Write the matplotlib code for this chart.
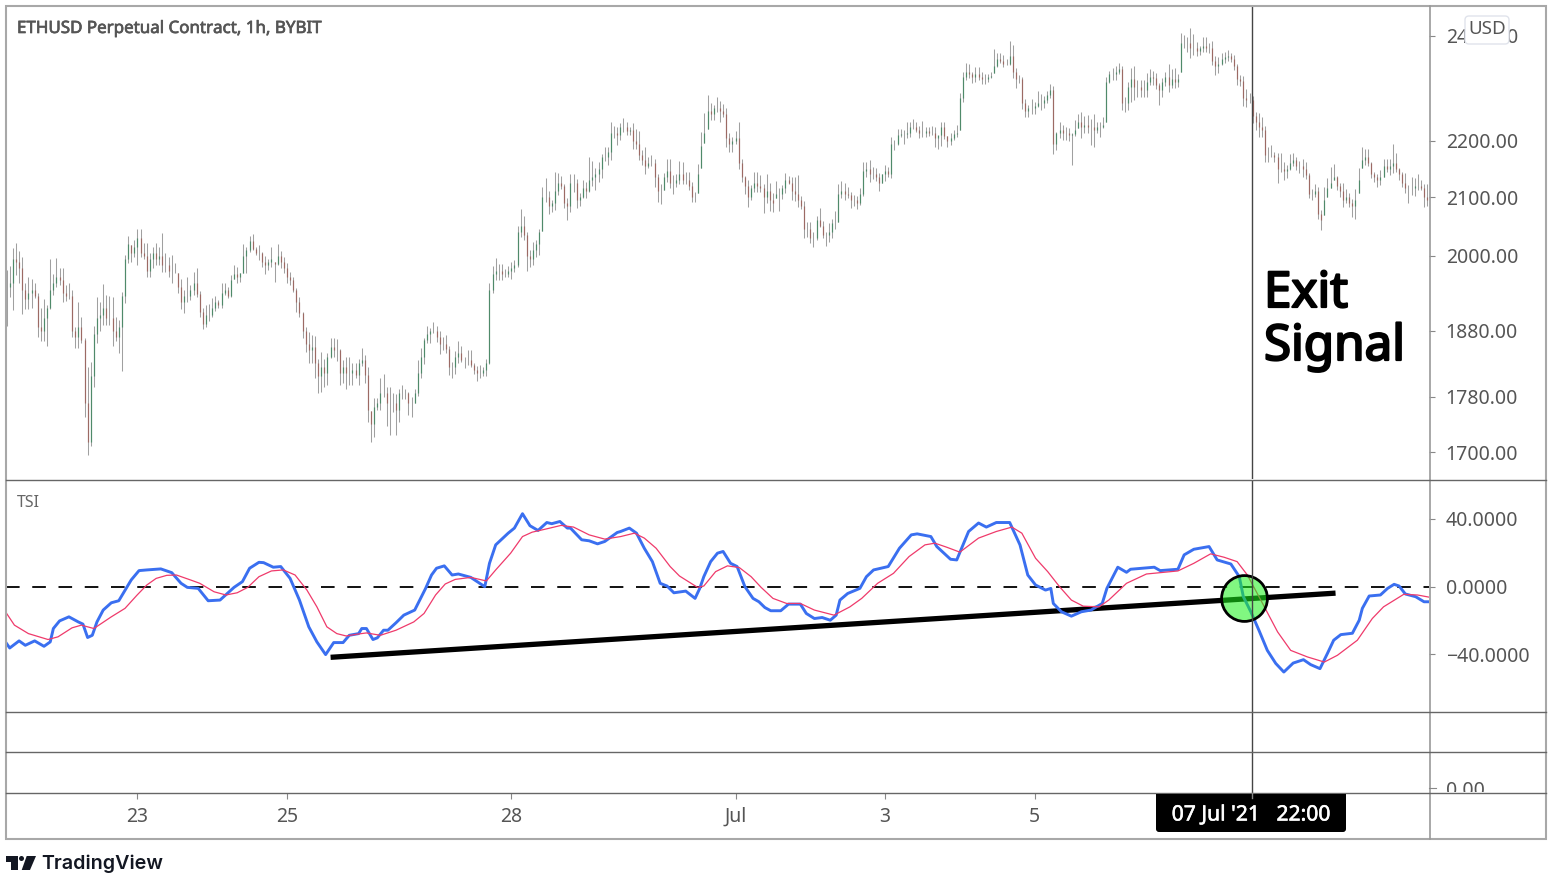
import matplotlib
matplotlib.use("Agg")
import matplotlib.patheffects as pe
import matplotlib.pyplot as plt
import matplotlib.transforms as mtransforms
from matplotlib.lines import Line2D
from matplotlib.patches import Circle, FancyBboxPatch, Polygon, Rectangle
from matplotlib.ticker import NullLocator
import numpy as np

plt.rcParams["font.family"] = ["Noto Sans", "DejaVu Sans"]

bar_high = [
    1977,1984,2013,2022,2008,1998,1955,1966,1963,1955,
    1939,1915,1930,1920,1995,1970,1996,1980,1980,1952,
    1955,1945,1886,1925,1901,1868,1824,1832,1887,1933,
    1925,1954,1936,1934,1933,1901,1897,1941,2001,2033,
    2018,2027,2046,2045,2022,2022,2005,2015,2022,2015,
    2038,2005,1998,2001,1988,1972,1963,1945,1965,1952,
    1973,1980,1942,1915,1920,1922,1931,1934,1928,1955,
    1955,1949,1968,1985,1982,1972,2020,2015,2033,2037,
    2015,2018,2007,2000,1995,2015,1990,2020,2008,1998,
    1988,1973,1966,1947,1933,1910,1886,1878,1873,1872,
    1836,1847,1836,1846,1868,1868,1867,1851,1835,1839,
    1839,1830,1830,1836,1853,1842,1824,1759,1778,1778,
    1808,1813,1794,1794,1785,1784,1792,1798,1792,1787,
    1779,1792,1835,1853,1868,1887,1884,1894,1887,1880,
    1870,1873,1856,1832,1848,1864,1856,1839,1850,1850,
    1830,1826,1827,1824,1836,1955,1984,1996,1986,1986,
    1978,1984,1990,1993,2051,2080,2068,2040,2010,2023,
    2027,2046,2118,2134,2110,2095,2144,2143,2137,2123,
    2098,2141,2141,2132,2107,2130,2126,2170,2164,2152,
    2161,2177,2188,2188,2234,2228,2226,2232,2243,2234,
    2226,2232,2222,2218,2184,2188,2171,2175,2168,2141,
    2123,2143,2168,2168,2139,2141,2164,2161,2144,2144,
    2126,2109,2159,2216,2251,2285,2270,2266,2281,2274,
    2268,2261,2215,2207,2218,2234,2168,2137,2130,2121,
    2144,2144,2139,2123,2141,2125,2107,2128,2116,2121,
    2143,2137,2135,2135,2139,2102,2093,2057,2057,2040,
    2067,2081,2058,2040,2055,2062,2076,2123,2128,2125,
    2118,2109,2103,2102,2116,2161,2161,2166,2153,2152,
    2143,2141,2157,2153,2207,2202,2222,2222,2220,2235,
    2235,2241,2235,2228,2237,2226,2226,2228,2226,2209,2235,2234,
    2209,2215,2220,2230,2289,2329,2346,2345,
    2329,2339,2339,2329,2326,2326,2329,2374,2366,2366,
    2362,2355,2390,2382,2337,2324,2320,2278,2266,2278,
    2272,2293,2287,2283,2293,2307,2303,2216,2234,2230,
    2226,2224,2215,2239,2250,2253,2246,2248,2241,2250,
    2235,2234,2244,2320,2331,2337,2341,2346,2341,2282,
    2310,2337,2341,2314,2314,2314,2327,2335,2331,2327,
    2308,2318,2329,2345,2335,2337,2326,2405,2401,2397,
    2415,2403,2388,2380,2398,2398,2386,2390,2360,2359,
    2366,2368,2372,2366,2362,2345,2324,2322,2297,2289,
    2283,2253,2251,2244,2228,2188,2193,2180,2178,2178,
    2161,2157,2177,2178,2171,2164,2168,2161,2143,2114,
    2123,2118,2078,2118,2134,2153,2159,2137,2125,2125,
    2114,2107,2097,2114,2152,2189,2186,2186,2162,2144,
    2141,2148,2168,2168,2168,2195,2178,2152,2144,2143,
    2121,2135,2134,2141,2130,2123,2123,2118]

bar_low = [
    1887,1933,1912,1968,1955,1906,1914,1914,1915,1931,
    1870,1864,1864,1856,1914,1936,1950,1952,1925,1926,
    1930,1870,1853,1853,1861,1750,1696,1709,1794,1861,
    1879,1889,1889,1889,1856,1864,1846,1818,1923,1988,
    1990,1998,1985,1998,1995,1965,1965,1980,1985,1985,
    1973,1973,1965,1955,1972,1939,1914,1908,1925,1928,
    1936,1933,1901,1883,1886,1895,1901,1911,1915,1915,
    1936,1931,1933,1963,1955,1957,1972,1972,2007,2010,
    2001,1993,1982,1970,1977,1982,1958,1985,1980,1972,
    1955,1952,1941,1910,1901,1868,1847,1830,1830,1807,
    1785,1787,1794,1797,1838,1839,1833,1797,1800,1791,
    1798,1798,1808,1798,1826,1801,1743,1714,1721,1760,
    1761,1779,1737,1724,1757,1724,1743,1776,1776,1753,
    1750,1770,1781,1808,1829,1861,1861,1876,1863,1844,
    1850,1846,1812,1808,1814,1830,1832,1823,1827,1824,
    1814,1803,1808,1811,1811,1829,1939,1960,1960,1960,
    1965,1965,1963,1973,1982,2032,2027,1975,1982,1985,
    1998,2001,2042,2091,2071,2074,2078,2103,2114,2081,
    2060,2074,2109,2081,2085,2098,2098,2109,2119,2112,
    2126,2134,2164,2157,2166,2206,2193,2202,2216,2211,
    2211,2186,2186,2166,2157,2141,2152,2154,2118,2091,
    2088,2112,2126,2116,2105,2118,2123,2123,2123,2112,
    2091,2091,2107,2152,2196,2222,2239,2239,2253,2234,
    2244,2189,2180,2180,2195,2150,2126,2105,2083,2095,
    2109,2109,2109,2073,2090,2076,2074,2098,2076,2097,
    2107,2123,2095,2093,2083,2079,2030,2032,2022,2015,
    2027,2048,2030,2017,2023,2030,2045,2057,2098,2095,
    2098,2081,2085,2079,2086,2102,2135,2126,2132,2128,
    2110,2125,2128,2135,2134,2184,2193,2207,2195,2206,
    2207,2222,2216,2206,2207,2207,2209,2211,2188,2186,2191,2204,
    2189,2193,2202,2207,2220,2272,2314,2318,
    2308,2310,2314,2306,2306,2310,2318,2327,2339,2347,
    2339,2343,2343,2318,2299,2308,2259,2244,2244,2250,
    2250,2262,2257,2261,2270,2280,2177,2184,2206,2202,
    2202,2200,2157,2209,2224,2206,2215,2215,2193,2189,
    2215,2207,2224,2235,2308,2314,2314,2326,2257,2253,
    2257,2272,2276,2282,2282,2282,2282,2305,2305,2297,
    2266,2282,2303,2291,2299,2299,2301,2329,2376,2368,
    2357,2362,2360,2362,2368,2368,2366,2343,2324,2327,
    2343,2347,2351,2349,2333,2305,2303,2265,2263,2270,
    2233,2220,2207,2207,2161,2161,2171,2161,2125,2144,
    2130,2134,2148,2154,2148,2143,2135,2132,2098,2095,
    2100,2062,2043,2069,2100,2116,2130,2112,2100,2083,
    2090,2083,2065,2062,2107,2152,2157,2154,2134,2126,
    2118,2121,2135,2144,2139,2143,2144,2130,2118,2107,
    2090,2103,2102,2112,2112,2083,2085,2100]

bar_close = [
    1950,1955,1995,1990,1980,1945,1930,1940,1945,1935,
    1885,1880,1900,1915,1945,1955,1965,1960,1940,1935,
    1935,1880,1870,1885,1865,1770,1715,1810,1875,1900,
    1905,1915,1900,1900,1880,1870,1885,1935,1995,2020,
    2005,2015,2030,2005,2000,1975,1995,2005,1995,2000,
    1985,1985,1975,1975,1975,1950,1925,1935,1935,1945,
    1955,1938,1910,1890,1905,1905,1915,1925,1920,1940,
    1945,1935,1960,1970,1965,1972,2000,2010,2025,2012,
    2005,2005,1990,1985,1990,1995,1987,2000,1990,1980,
    1965,1960,1945,1925,1908,1880,1860,1850,1855,1830,
    1810,1825,1815,1840,1855,1850,1850,1815,1825,1815,
    1815,1820,1812,1830,1835,1812,1760,1740,1765,1770,
    1785,1785,1770,1770,1770,1760,1785,1785,1785,1770,
    1770,1785,1815,1840,1865,1875,1880,1880,1870,1860,
    1860,1852,1825,1825,1840,1845,1835,1835,1835,1828,
    1820,1815,1815,1820,1830,1945,1970,1975,1975,1970,
    1970,1975,1980,1985,2040,2050,2035,2000,1995,2010,
    2020,2040,2100,2100,2085,2090,2110,2125,2120,2090,
    2085,2125,2125,2095,2100,2115,2110,2130,2135,2140,
    2150,2170,2170,2180,2215,2215,2210,2225,2225,2218,
    2220,2200,2195,2175,2165,2155,2160,2160,2135,2110,
    2110,2135,2145,2125,2125,2130,2140,2130,2130,2120,
    2100,2100,2140,2190,2215,2255,2250,2260,2260,2255,
    2250,2205,2195,2200,2205,2160,2135,2120,2100,2115,
    2125,2120,2115,2100,2110,2095,2090,2105,2105,2115,
    2130,2125,2110,2105,2095,2085,2045,2045,2030,2030,
    2060,2050,2035,2035,2040,2055,2055,2105,2110,2105,
    2103,2095,2095,2090,2105,2145,2150,2140,2140,2135,
    2125,2140,2145,2140,2195,2195,2210,2212,2212,2215,
    2225,2225,2220,2215,2215,2218,2215,2215,2205,2210,2225,2208,
    2200,2205,2212,2215,2280,2320,2330,2325,
    2320,2325,2320,2315,2315,2320,2322,2340,2355,2350,
    2345,2345,2360,2330,2315,2315,2270,2255,2260,2260,
    2265,2270,2270,2275,2285,2295,2195,2215,2220,2215,
    2215,2210,2212,2220,2235,2225,2230,2225,2225,2220,
    2225,2225,2230,2310,2325,2325,2330,2335,2270,2270,
    2300,2315,2300,2300,2295,2295,2310,2320,2318,2305,
    2295,2310,2320,2305,2315,2310,2315,2385,2385,2385,
    2375,2375,2370,2375,2380,2375,2375,2350,2340,2345,
    2355,2358,2360,2355,2340,2315,2312,2280,2275,2275,
    2245,2235,2225,2220,2175,2175,2175,2170,2150,2150,
    2145,2150,2160,2165,2155,2155,2150,2138,2105,2105,
    2110,2070,2060,2095,2115,2125,2135,2120,2110,2095,
    2100,2090,2085,2095,2130,2165,2170,2160,2140,2135,
    2130,2135,2155,2150,2155,2160,2150,2140,2125,2115,
    2115,2115,2120,2120,2115,2100,2095,2105]

tsi_bar = [
    0,1,4,6,9,12,14,15,17,20,23,24.5,26,27.5,29,31,33.6,36,40,42.5,
    45,49.5,53,56,58,61.5,64.7,68.5,73,75.7,78,81,82.5,85.6,88,91,94,97,99.6,102.4,
    105,108,110,113,114,115.5,117.6,119,121,122.4,125,127.5,131,134.5,136.4,138,140.5,143,145,149,
    153.5,155,157,161,163,165.6,168,170.6,173.4,175,177.6,180,181,184.6,187,189.7,192,196,
    197.1,199.9,202.2,204.7,207.3,209.8,212,214.2,218,221,222.5,223.8,226,228.2,230,232.4,234.5,237,239.6,241.5,
    243.4,245.3,248.5,251,254.8,256.7,259.3,261.8,264.4,266.3,267.5,270,273.9,276,278.3,283,286.6,290.4,292.3,296.7,
    298.6,303,305,308.8,312,314.5,317.7,322,325.3,327.8,330.3,333.5,335.2,336,338.6,341.8,345,348.1,351.7,353.2,
    356.7,359.5,360.8,368.4,370.3,376,378,381.1,386,388.6,393,395.7,397,399.4,402,404.7,407.4,410,413,416.3,
    418.6,421.6,424,426,428.3,432,434.2,435.2,437.4,441,443.3,445.4,447,449,452.3,455,457]
tsi_value = [
    -33.7,-36.3,-32.1,-34.7,-32.1,-35.3,-32.7,-24.8,-20.3,-17.9,-20.9,-22.2,-30.1,-28.8,-20.9,-13.9,-9.6,-8.4,3.9,9.4,
    9.8,10.4,8.2,1.9,-0.5,-1.1,-8.4,-8,-0.5,2.9,10.8,14.3,14.1,11.4,11.8,4.8,-8,-23.8,-32.7,-40.2,
    -33.1,-33.1,-28.8,-27.8,-24.8,-24.8,-31.3,-30.3,-25.8,-25.8,-21.4,-16.9,-13.9,-1.1,6.8,10.8,12.2,6.8,7.4,5.4,
    -0.1,13.7,24.6,31.5,34.5,43,35.9,33.1,37.8,37.1,38.4,34.5,34.5,27.6,27,25.2,26.6,31.9,
    32.5,34.5,31.5,22.6,14.7,1.9,0.3,-3.7,-2.7,-7,-1.1,5.8,14.7,19.7,20.7,13.7,11.8,-0.1,-7,-9,
    -12.4,-14.3,-14.3,-10.4,-10.4,-15.9,-18.9,-18.3,-19.9,-16.9,-8,-4.1,-1.1,5.8,9.8,11.8,22.6,30.5,31.1,29.5,
    23.6,16.1,15.7,32.5,37.5,35.1,37.8,37.8,24.6,6.8,0.9,-2.1,-1.1,-10,-14.9,-17.5,-14.9,-13.9,-10,-1.1,
    11.4,8.4,10.2,11.4,9.4,10.2,18.7,22,23.6,15.7,13.3,5.8,-6,-14.9,-25.8,-37.7,-45.4,-50.5,-45.2,-43.2,
    -46.1,-48.5,-39.5,-31.7,-28.4,-27.6,-19.9,-12.9,-5.6,-5,-1.1,1.3,0.3,-4.4,-6,-9,-9]

signal_bar = [
    0,2.5,7,13.3,16.5,21,24,28,33.6,38,41.9,45,48,51.4,54.5,59,62,66.6,70.4,74,
    77.4,81,85,88.8,92.6,96.4,99.6,102.8,106,109,112.3,115.5,120,125,130.7,134,137.7,140.8,144,149,
    154,157,161.8,165.6,168.7,173,178,182,187,192,
    197.1,201.5,204.7,208.5,213,216,221.8,223.8,227.6,231.4,235.2,239,242.2,246,250.4,254.8,259.3,265.6,270.7,274.5,
    279.6,284.7,289.7,294.8,298,301.8,306,312,317.7,322.7,325.9,330.3,334.2,338,341.8,345.6,350.7,353.8,359.5,365.9,
    376,381.1,386.5,390.8,395,398.3,402.6,408,412.2,417.6,423,427.2,433.6,438.4,442,448.5,452.9,457]
signal_value = [
    -15.9,-22.8,-27.8,-31.3,-29.7,-24.4,-22.8,-24.8,-17.9,-12.9,-5,0.9,4.8,6.6,6.8,3.9,1.9,-3.1,-5,-3.7,
    -0.5,5.8,9.2,9.8,6.8,-2.1,-12,-23.8,-27.8,-29.2,-28.2,-27.4,-28.8,-25.8,-20.9,-15.9,-5,1.5,4.2,5.4,
    3.3,9.8,19.7,29.5,32.1,33.9,36.1,35.1,30.5,28,
    29.5,31.5,28.6,22.6,11.8,6.2,-0.5,0.3,8.8,12.2,11.2,5.8,-0.5,-7,-10,-10,-13.9,-16.9,-12,-7,
    1.9,7.8,17.7,24.6,25.6,23.2,20.3,28.6,32.5,35.1,31.5,16.7,8.8,-0.1,-8,-11.6,-12,-8,1.9,7.4,
    9.2,13.7,19.3,17.3,14.7,6.8,-8,-26.8,-37.7,-41.6,-44.6,-40.6,-31.7,-18.9,-12,-4.6,-5,-6.4]

trend_bar = [104, 426.6]
trend_value = [-41.8, -3.9]
exit_bar = 397.2
exit_value = -6.8
crosshair_bar = 399.7

price_ticks = [1700, 1780, 1880, 2000, 2100, 2200, 2400]
price_labels = ["1700.00", "1780.00", "1880.00", "2000.00", "2100.00", "2200.00", "2400.00"]
tsi_ticks = [-40, 0, 40]
tsi_labels = ["\u221240.0000", "0.0000", "40.0000"]
date_ticks = [42, 90, 162, 234, 282, 330]
date_labels = ["23", "25", "28", "Jul", "3", "5"]

W, H = 1553, 876
fig = plt.figure(figsize=(W / 100, H / 100), dpi=100, facecolor="white")
px = mtransforms.Affine2D().scale(1, -1).translate(0, H)


def pane(top, bottom):
    ax = fig.add_axes([6 / W, 1 - bottom / H, 1423 / W, (bottom - top) / H])
    ax.set_xlim(-0.2, 456.6)
    for s in ax.spines.values():
        s.set_visible(False)
    ax.set_xticks([])
    ax.set_facecolor("none")
    return ax


def heavy(width, color):
    # the installed Noto Sans has no bold face, so thicken the glyphs
    return [pe.withStroke(linewidth=width, foreground=color)]


axis_text = "#555555"

# price pane
ax1 = pane(6, 479.5)
bars = np.arange(len(bar_high))
high = np.array(bar_high)
low = np.array(bar_low)
close = np.array(bar_close)
opens = np.clip(np.r_[close[0], close[:-1]], low, high)
up = close >= opens
ax1.vlines(bars, low, high, color="#a0a0a0", lw=0.75)
ax1.vlines(bars[up], opens[up], close[up], color="#4f8a6a", lw=0.85)
ax1.vlines(bars[~up], opens[~up], close[~up], color="#9c6a64", lw=0.85)
ax1.set_yscale("log")
ax1.set_ylim(1662, 2460)
ax1.yaxis.tick_right()
ax1.set_yticks(price_ticks, price_labels)
ax1.yaxis.set_minor_locator(NullLocator())
ax1.tick_params(axis="y", length=4, width=0.8, color="#888888", labelcolor=axis_text,
                labelsize=14, pad=8)
ax1.axvline(crosshair_bar, color="#444444", lw=1)
fig.text(17 / W, 1 - 29 / H, "ETHUSD Perpetual Contract, 1h, BYBIT", fontsize=12.2,
         color="#555555", va="center", path_effects=heavy(0.5, "#555555"))
fig.text(1264 / W, 1 - 294 / H, "Exit", fontsize=35.5, color="black", va="center",
         path_effects=heavy(1.6, "black"))
fig.text(1264 / W, 1 - 347 / H, "Signal", fontsize=35.5, color="black", va="center",
         path_effects=heavy(1.6, "black"))

# TSI pane
ax2 = pane(479.5, 711.5)
ax2.set_ylim(-73.8, 63.2)
ax2.axhline(0, color="#111111", lw=1.4, dashes=(7, 6.5))
ax2.plot(trend_bar, trend_value, color="black", lw=3.8, solid_capstyle="butt")
ax2.plot(tsi_bar, tsi_value, color="#3a6ff0", lw=2.1)
ax2.plot(signal_bar, signal_value, color="#ef3a6b", lw=0.9)
ax2.plot([exit_bar], [exit_value], marker="o", ms=33, mfc=(0.1, 0.95, 0.1, 0.55), mec="black", mew=2)
ax2.axvline(crosshair_bar, color="#444444", lw=1)
ax2.yaxis.tick_right()
ax2.set_yticks(tsi_ticks, tsi_labels)
ax2.tick_params(axis="y", length=4, width=0.8, color="#888888", labelcolor=axis_text,
                labelsize=14, pad=8)
fig.text(17 / W, 1 - 503 / H, "TSI", fontsize=11.5, color="#666666", va="center")

# two empty panes under the TSI
ax3 = pane(711.5, 751.5)
ax3.set_yticks([])
ax3.axvline(crosshair_bar, color="#444444", lw=1)
ax4 = pane(751.5, 793)
ax4.set_yticks([])
ax4.axvline(crosshair_bar, color="#444444", lw=1)
ax4.set_xticks(date_ticks, date_labels)
ax4.tick_params(axis="x", length=4, width=0.8, color="#888888", labelcolor=axis_text,
                labelsize=14, pad=6)

# frame and separators
fig.add_artist(Rectangle((6, 6), 1540, 833, transform=px, fill=False, ec="#a8a8a8", lw=1.5))
fig.add_artist(Line2D([1429.5, 1429.5], [6, 839], transform=px, color="#999999", lw=1.2))
for y in [479.5, 711.5, 751.5, 793]:
    fig.add_artist(Line2D([6, 1546], [y, y], transform=px, color="#666666", lw=1))
fig.add_artist(Line2D([1429, 1436], [788, 788], transform=px, color="#888888", lw=0.8))

# clipped zero label of the bottom pane
zero = fig.text(1446 / W, 1 - 791 / H, "0.00", fontsize=14, color=axis_text, va="center")
zero.set_clip_box(mtransforms.Bbox.from_extents(0, H - 792, W, H))
zero.set_clip_on(True)

# USD badge over the top label
fig.add_artist(FancyBboxPatch((1467, 18), 40, 24, boxstyle="round,pad=2,rounding_size=4",
                              transform=px, fc="white", ec="#e0e3eb", lw=1, zorder=5))
fig.text(1487 / W, 1 - 29 / H, "USD", fontsize=13.5, color="#555555", ha="center", va="center", zorder=6)

# crosshair date label
fig.add_artist(FancyBboxPatch((1159, 797), 184, 32, boxstyle="round,pad=3,rounding_size=3",
                              transform=px, fc="black", ec="black", lw=0, zorder=5))
fig.add_artist(Rectangle((1156, 793.5), 190, 10, transform=px, fc="black", ec="none", zorder=5))
fig.add_artist(Line2D([1252, 1252], [793, 798], transform=px, color="#888888", lw=1, zorder=6))
fig.text(1251 / W, 1 - 815 / H, "07 Jul '21   22:00", fontsize=15.2, color="white", ha="center",
         va="center", zorder=6, path_effects=heavy(0.4, "white"))

# TradingView logo
logo = "#131722"
fig.add_artist(Polygon([(5.5, 856), (18, 856), (18, 870), (11, 870), (11, 862), (5.5, 862)],
                       transform=px, fc=logo, ec="none"))
fig.add_artist(Circle((21.5, 858.5), 2.5, transform=px, fc=logo, ec="none"))
fig.add_artist(Polygon([(26.7, 856), (36, 856), (30, 870), (21.7, 870)],
                       transform=px, fc=logo, ec="none"))
fig.text(41 / W, 1 - 864 / H, "TradingView", fontsize=14.2, fontweight="semibold", color=logo,
         family=["Inter", "Noto Sans"], va="center")

fig.savefig("out.png", dpi=100)
